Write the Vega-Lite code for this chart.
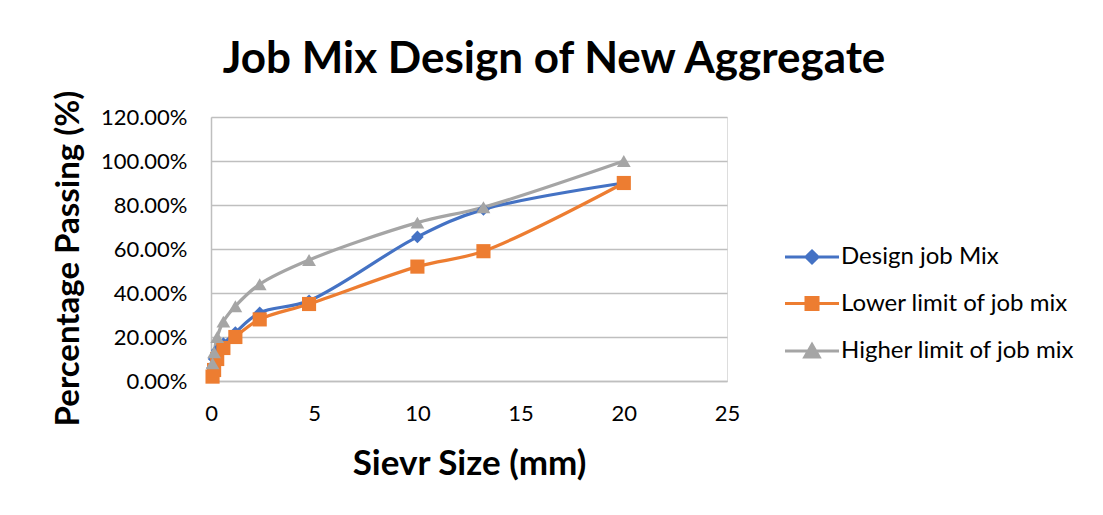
{
  "$schema": "https://vega.github.io/schema/vega-lite/v6.json",
  "autosize": "none",
  "width": 516,
  "height": 264,
  "padding": {"left": 211, "top": 117, "right": 376, "bottom": 134},
  "background": "white",
  "title": {
    "text": "Job Mix Design of New Aggregate",
    "font": "Lato",
    "fontWeight": "bold",
    "fontSize": 44,
    "color": "#000000",
    "anchor": "middle",
    "dx": 85,
    "offset": 8
  },
  "data": {
    "values": [
      {"size": 0.075, "series": "Design job Mix", "pct": 0.06},
      {"size": 0.15, "series": "Design job Mix", "pct": 0.1},
      {"size": 0.3, "series": "Design job Mix", "pct": 0.14},
      {"size": 0.6, "series": "Design job Mix", "pct": 0.17},
      {"size": 1.18, "series": "Design job Mix", "pct": 0.22},
      {"size": 2.36, "series": "Design job Mix", "pct": 0.31},
      {"size": 4.75, "series": "Design job Mix", "pct": 0.365},
      {"size": 10, "series": "Design job Mix", "pct": 0.655},
      {"size": 13.2, "series": "Design job Mix", "pct": 0.78},
      {"size": 20, "series": "Design job Mix", "pct": 0.9},
      {"size": 0.075, "series": "Lower limit of job mix", "pct": 0.02},
      {"size": 0.15, "series": "Lower limit of job mix", "pct": 0.05},
      {"size": 0.3, "series": "Lower limit of job mix", "pct": 0.1},
      {"size": 0.6, "series": "Lower limit of job mix", "pct": 0.15},
      {"size": 1.18, "series": "Lower limit of job mix", "pct": 0.2},
      {"size": 2.36, "series": "Lower limit of job mix", "pct": 0.28},
      {"size": 4.75, "series": "Lower limit of job mix", "pct": 0.35},
      {"size": 10, "series": "Lower limit of job mix", "pct": 0.52},
      {"size": 13.2, "series": "Lower limit of job mix", "pct": 0.59},
      {"size": 20, "series": "Lower limit of job mix", "pct": 0.9},
      {"size": 0.075, "series": "Higher limit of job mix", "pct": 0.08},
      {"size": 0.15, "series": "Higher limit of job mix", "pct": 0.13},
      {"size": 0.3, "series": "Higher limit of job mix", "pct": 0.2},
      {"size": 0.6, "series": "Higher limit of job mix", "pct": 0.27},
      {"size": 1.18, "series": "Higher limit of job mix", "pct": 0.34},
      {"size": 2.36, "series": "Higher limit of job mix", "pct": 0.44},
      {"size": 4.75, "series": "Higher limit of job mix", "pct": 0.55},
      {"size": 10, "series": "Higher limit of job mix", "pct": 0.72},
      {"size": 13.2, "series": "Higher limit of job mix", "pct": 0.79},
      {"size": 20, "series": "Higher limit of job mix", "pct": 1.0}
    ]
  },
  "encoding": {
    "x": {
      "field": "size",
      "type": "quantitative",
      "scale": {"domain": [0, 25], "nice": false},
      "axis": {
        "title": "Sievr Size (mm)",
        "values": [0, 5, 10, 15, 20, 25],
        "grid": false,
        "ticks": false,
        "labelFlush": false,
        "domainColor": "#bfbfbf",
        "domainWidth": 1.5,
        "labelPadding": 22,
        "labelFontSize": 22,
        "labelFont": "Lato",
        "labelColor": "#000000",
        "titleFont": "Lato",
        "titleFontSize": 35,
        "titleFontWeight": "bold",
        "titleColor": "#000000",
        "titlePadding": 22
      }
    },
    "y": {
      "field": "pct",
      "type": "quantitative",
      "scale": {"domain": [0, 1.2], "nice": false},
      "axis": {
        "title": "Percentage Passing (%)",
        "values": [0, 0.2, 0.4, 0.6, 0.8, 1.0, 1.2],
        "format": ".2%",
        "grid": true,
        "gridColor": "#bfbfbf",
        "gridWidth": 1.5,
        "ticks": false,
        "labelFlush": false,
        "domainColor": "#bfbfbf",
        "domainWidth": 1.5,
        "labelPadding": 24,
        "labelFontSize": 22,
        "labelFont": "Lato",
        "labelColor": "#000000",
        "titleFont": "Lato",
        "titleFontSize": 33,
        "titleFontWeight": "bold",
        "titleColor": "#000000",
        "titlePadding": 15,
        "titleY": 141
      }
    },
    "color": {
      "field": "series",
      "type": "nominal",
      "sort": ["Design job Mix", "Lower limit of job mix", "Higher limit of job mix"],
      "scale": {
        "domain": ["Design job Mix", "Lower limit of job mix", "Higher limit of job mix"],
        "range": ["#4472C4", "#ED7D31", "#A5A5A5"]
      },
      "legend": {
        "title": null,
        "orient": "none",
        "legendX": 589,
        "legendY": 128,
        "symbolSize": 144,
        "labelFont": "Lato",
        "labelFontSize": 24,
        "labelLimit": 400,
        "labelColor": "#000000",
        "labelOffset": 17,
        "rowPadding": 22.5,
        "symbolStrokeWidth": 3,
        "encode": {
          "symbols": {
            "update": {
              "shape": {"signal": "datum.value === 'Design job Mix' ? 'M-4.5,0H4.5M0,-1L1,0L0,1L-1,0Z' : datum.value === 'Lower limit of job mix' ? 'M-4.5,0H4.5M-1,-1H1V1H-1Z' : 'M-4.5,0H4.5M0,-1.1L1.2,1H-1.2Z'"},
              "fill": {"signal": "scale('color', datum.value)"},
              "stroke": {"signal": "scale('color', datum.value)"},
              "strokeWidth": {"value": 3},
              "opacity": {"value": 1}
            }
          }
        }
      }
    }
  },
  "layer": [
    {
      "mark": {"type": "line", "interpolate": "catmull-rom", "strokeWidth": 3.2},
      "encoding": {}
    },
    {
      "transform": [{"filter": "datum.series === 'Design job Mix'"}],
      "mark": {"type": "point", "filled": true, "opacity": 1, "shape": "diamond", "size": 160},
      "encoding": {}
    },
    {
      "transform": [{"filter": "datum.series === 'Lower limit of job mix'"}],
      "mark": {"type": "point", "filled": true, "opacity": 1, "shape": "square", "size": 200},
      "encoding": {}
    },
    {
      "transform": [{"filter": "datum.series === 'Higher limit of job mix'"}],
      "mark": {"type": "point", "filled": true, "opacity": 1, "shape": "triangle-up", "size": 190},
      "encoding": {}
    }
  ]
}
